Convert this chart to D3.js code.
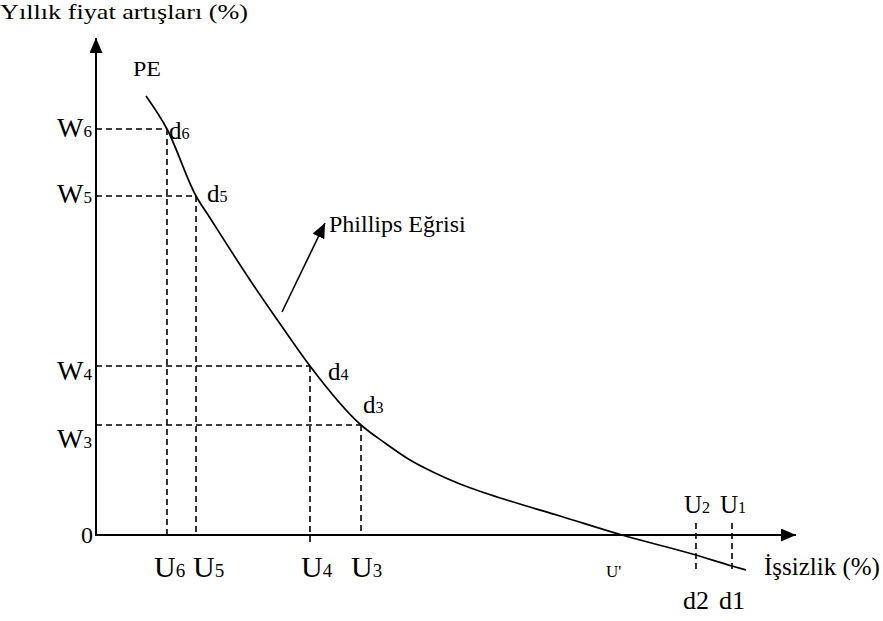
<!DOCTYPE html>
<html><head><meta charset="utf-8">
<script src="https://cdn.jsdelivr.net/npm/d3@7"></script>
<style>body{margin:0;background:#fff}svg{display:block}text{font-family:"Liberation Serif","Times New Roman",serif;fill:#000}</style>
</head><body><svg id="c" width="883" height="621"></svg>
<script>
// Phillips curve (unemployment %, inflation %) in arbitrary chart units
const curveU = [7.14, 10.14, 14.29, 16.29, 22.0, 26.71, 30.57, 37.86, 41.29, 44.86, 48.43, 52.0, 55.57, 59.14, 66.29, 75.14, 85.71, 90.86, 92.86];
const curveW = [87.8, 81.2, 67.8, 63.4, 51.0, 41.4, 33.8, 22.0, 18.4, 15.0, 12.4, 10.2, 8.4, 6.8, 3.8, 0, -4.0, -6.2, -7.0];
// marked points
const pointNames = ["6", "5", "4", "3"];
const pointU = [10.14, 14.29, 30.57, 37.86];
const pointW = [81.2, 67.8, 33.8, 22.0];
const lowNames = ["2", "1"];
const lowU = [85.71, 90.86];
const lowW = [-4.0, -6.2];
const naturalU = 75.14;

const svg = d3.select("#c");
const x = d3.scaleLinear().domain([0, 100]).range([96, 796]);
const y = d3.scaleLinear().domain([0, 100]).range([535, 35]);

const defs = svg.append("defs");
defs.append("marker").attr("id","ah").attr("viewBox","0 0 10 10").attr("refX",10).attr("refY",5)
  .attr("markerWidth",15).attr("markerHeight",13).attr("markerUnits","userSpaceOnUse").attr("orient","auto")
  .attr("preserveAspectRatio","none")
  .append("path").attr("d","M0,0 L10,5 L0,10 Z").attr("fill","#000");

const dash = "6,4";
const g = svg.append("g").attr("stroke","#000").attr("stroke-width",1.6).attr("stroke-dasharray",dash);
// dashed guides
pointU.forEach((u,i)=>{
  g.append("line").attr("x1",x(0)).attr("x2",x(u)).attr("y1",y(pointW[i])).attr("y2",y(pointW[i]));
  g.append("line").attr("x1",x(u)).attr("x2",x(u)).attr("y1",y(pointW[i])).attr("y2", i===2 ? y(-1.6) : y(0));
});
lowU.forEach((u,i)=>{
  g.append("line").attr("x1",x(u)).attr("x2",x(u)).attr("y1",y(2.4)).attr("y2",y(-7.2));
});

// axes
svg.append("line").attr("x1",x(0)).attr("y1",y(0)+1).attr("x2",x(0)).attr("y2",y(99.4))
  .attr("stroke","#000").attr("stroke-width",2).attr("marker-end","url(#ah)");
svg.append("line").attr("x1",x(0)-1).attr("y1",y(0)).attr("x2",x(100)).attr("y2",y(0))
  .attr("stroke","#000").attr("stroke-width",2).attr("marker-end","url(#ah)");

// curve
const pts = curveU.map((u,i)=>[x(u), y(curveW[i])]);
svg.append("path").attr("d", d3.line().curve(d3.curveMonotoneX)(pts))
  .attr("fill","none").attr("stroke","#000").attr("stroke-width",1.7);

// Phillips arrow
svg.append("line").attr("x1",282).attr("y1",312).attr("x2",325).attr("y2",223)
  .attr("stroke","#000").attr("stroke-width",1.6).attr("marker-end","url(#ah)");
svg.append("text").attr("x",329).attr("y",232).attr("font-size",24).text("Phillips Eğrisi");

// titles
svg.append("text").attr("x",0).attr("y",19).attr("font-size",21).attr("textLength",248).attr("lengthAdjust","spacingAndGlyphs").text("Yıllık fiyat artışları (%)");
svg.append("text").attr("x",764).attr("y",575).attr("font-size",25).text("İşsizlik (%)");
svg.append("text").attr("x",133).attr("y",76).attr("font-size",20).attr("textLength",28).attr("lengthAdjust","spacingAndGlyphs").text("PE");
svg.append("text").attr("x",81).attr("y",543).attr("font-size",24).text("0");
svg.append("text").attr("x",x(naturalU)-16).attr("y",577).attr("font-size",17).text("U'");

function sub(xp, yp, main, s, size, ssize){
  const t = svg.append("text").attr("x",xp).attr("y",yp).attr("font-size",size);
  t.append("tspan").text(main);
  t.append("tspan").attr("font-size",ssize).text(s);
}
const wBase = [137, 203, 380, 448];
pointW.forEach((w,i)=> sub(57, wBase[i], "W", pointNames[i], 28, 17));
const uOff = [-13, -3, -9, -10];
pointU.forEach((u,i)=> sub(x(u)+uOff[i], 577, "U", pointNames[i], 30, 19));
const dOff = [[2,10],[11,6],[18,14],[2,-12]];
pointU.forEach((u,i)=> sub(x(u)+dOff[i][0], y(pointW[i])+dOff[i][1], "d", pointNames[i], 25, 16));
lowU.forEach((u,i)=> sub(x(u)-12, 513, "U", lowNames[i], 25, 16));
lowU.forEach((u,i)=> svg.append("text").attr("x",x(u)-13).attr("y",609).attr("font-size",26).text("d"+lowNames[i]));
</script></body></html>
